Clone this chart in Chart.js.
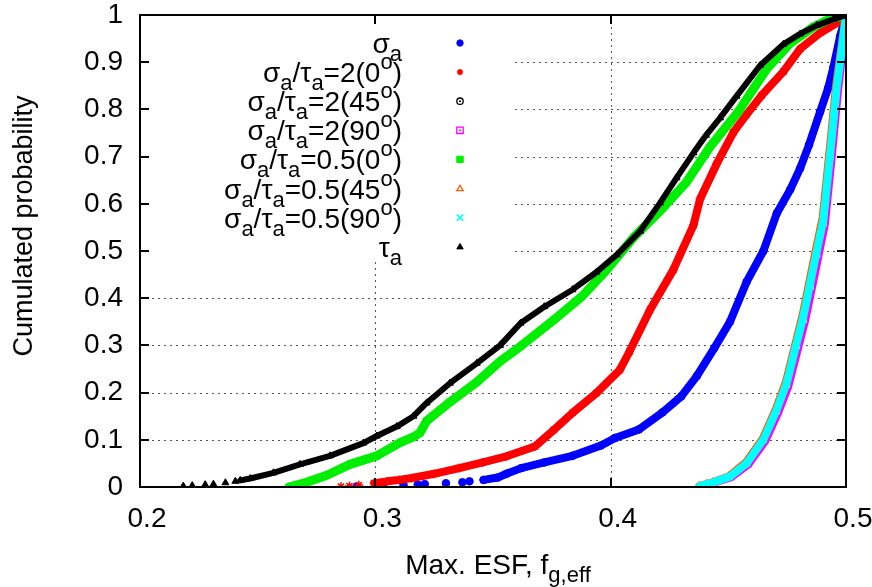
<!DOCTYPE html>
<html>
<head>
<meta charset="utf-8">
<script src="https://cdn.jsdelivr.net/npm/chart.js@4/dist/chart.umd.min.js"></script>
<style>
html,body{margin:0;padding:0;background:#ffffff;}
#wrap{width:872px;height:587px;position:relative;}
</style>
</head>
<body>
<div id="wrap"><canvas id="c" width="872" height="587"></canvas></div>
<script>
// ---------- data ----------
const seriesNames = ['σa', 'σa/τa=2(0°)', 'σa/τa=2(45°)', 'σa/τa=2(90°)', 'σa/τa=0.5(0°)', 'σa/τa=0.5(45°)', 'σa/τa=0.5(90°)', 'τa'];
const xTickLabels = ['0.2', '0.3', '0.4', '0.5'];
const yTickLabels = ['0', '0.1', '0.2', '0.3', '0.4', '0.5', '0.6', '0.7', '0.8', '0.9', '1'];
const xAxisTitle = ['Max. ESF, f', 'g,eff'];
const yAxisTitle = 'Cumulated probability';

const sigmaA_x = [0.292, 0.301, 0.303, 0.312, 0.318, 0.321, 0.330, 0.337, 0.340, 0.346, 0.352, 0.3557, 0.362, 0.3718, 0.3838, 0.3959, 0.4019, 0.412, 0.422, 0.430, 0.4366, 0.4441, 0.4507, 0.4578, 0.4649, 0.4706, 0.4763, 0.4805, 0.4843, 0.489, 0.4924, 0.4947, 0.4975, 0.5];
const sigmaA_p = [0.001, 0.002, 0.003, 0.004, 0.005, 0.006, 0.008, 0.010, 0.012, 0.015, 0.020, 0.028, 0.040, 0.052, 0.066, 0.088, 0.104, 0.122, 0.158, 0.192, 0.235, 0.295, 0.350, 0.435, 0.500, 0.580, 0.630, 0.675, 0.725, 0.795, 0.845, 0.890, 0.955, 1.0];

const ratio2_0_x = [0.2854, 0.289, 0.293, 0.2995, 0.305, 0.310, 0.3155, 0.325, 0.3356, 0.3457, 0.3557, 0.3678, 0.3758, 0.3838, 0.3939, 0.4039, 0.408, 0.4167, 0.4266, 0.4352, 0.438, 0.4451, 0.4522, 0.4579, 0.4642, 0.4734, 0.4805, 0.489, 0.4975, 0.5];
const ratio2_0_p = [0.001, 0.002, 0.004, 0.008, 0.012, 0.015, 0.019, 0.028, 0.040, 0.052, 0.065, 0.086, 0.121, 0.157, 0.199, 0.248, 0.287, 0.375, 0.460, 0.555, 0.610, 0.685, 0.752, 0.790, 0.830, 0.880, 0.928, 0.962, 0.987, 1.0];

const ratio2_45_x = [0.4384, 0.4413, 0.444, 0.451, 0.4582, 0.4653, 0.4709, 0.4752, 0.4794, 0.4823, 0.4852, 0.488, 0.4907, 0.4936, 0.4963, 0.499, 0.5];
const ratio2_45_p = [0.002, 0.006, 0.010, 0.022, 0.050, 0.099, 0.161, 0.218, 0.301, 0.358, 0.428, 0.496, 0.562, 0.703, 0.845, 0.952, 1.0];

const ratio2_90_x = [0.4387, 0.4417, 0.4443, 0.4513, 0.4585, 0.4656, 0.4712, 0.4755, 0.4797, 0.4826, 0.4855, 0.4883, 0.491, 0.4939, 0.4966, 0.4992, 0.5];
const ratio2_90_p = [0.002, 0.006, 0.010, 0.021, 0.048, 0.097, 0.158, 0.214, 0.296, 0.352, 0.422, 0.490, 0.556, 0.698, 0.840, 0.950, 1.0];

const ratio05_0_x = [0.2633, 0.2708, 0.2794, 0.2892, 0.3006, 0.3105, 0.3162, 0.319, 0.3218, 0.3317, 0.3431, 0.353, 0.3617, 0.3758, 0.3879, 0.3983, 0.4096, 0.422, 0.4321, 0.4421, 0.4542, 0.4662, 0.4763, 0.4863, 0.4933, 0.5];
const ratio05_0_p = [0.0, 0.010, 0.025, 0.048, 0.066, 0.094, 0.106, 0.115, 0.140, 0.180, 0.222, 0.266, 0.298, 0.354, 0.404, 0.460, 0.528, 0.590, 0.645, 0.720, 0.795, 0.885, 0.940, 0.975, 0.992, 1.0];

const ratio05_45_x = [0.4377, 0.4408, 0.4434, 0.4504, 0.4575, 0.4646, 0.4702, 0.4745, 0.4787, 0.4816, 0.4845, 0.4873, 0.4901, 0.493, 0.4958, 0.4987, 0.5];
const ratio05_45_p = [0.002, 0.006, 0.010, 0.023, 0.052, 0.102, 0.165, 0.223, 0.307, 0.365, 0.436, 0.505, 0.571, 0.711, 0.851, 0.956, 1.0];

const ratio05_90_x = [0.438, 0.441, 0.4437, 0.4507, 0.4578, 0.4649, 0.4705, 0.4748, 0.479, 0.4819, 0.4848, 0.4876, 0.4904, 0.4933, 0.4961, 0.4989, 0.5];
const ratio05_90_p = [0.002, 0.006, 0.010, 0.022, 0.050, 0.100, 0.163, 0.220, 0.304, 0.361, 0.432, 0.500, 0.566, 0.707, 0.848, 0.954, 1.0];

const tauA_x = [0.2184, 0.2222, 0.2277, 0.2312, 0.2363, 0.2405, 0.2426, 0.2468, 0.2567, 0.268, 0.2807, 0.2949, 0.3006, 0.3091, 0.3162, 0.3218, 0.3317, 0.3431, 0.353, 0.3617, 0.3718, 0.3838, 0.3939, 0.4026, 0.4125, 0.421, 0.428, 0.4352, 0.4405, 0.4465, 0.4535, 0.4635, 0.4734, 0.4805, 0.4876, 0.4947, 0.5];
const tauA_p = [0.002, 0.003, 0.005, 0.006, 0.009, 0.012, 0.014, 0.018, 0.030, 0.048, 0.066, 0.093, 0.108, 0.128, 0.150, 0.178, 0.220, 0.262, 0.300, 0.347, 0.382, 0.418, 0.455, 0.492, 0.542, 0.602, 0.655, 0.708, 0.745, 0.782, 0.828, 0.893, 0.938, 0.960, 0.978, 0.991, 1.0];

// rich-text pieces of the legend labels ('' = normal, 'sub', 'sup')
const legendRich = [
  [['σ',''],['a','sub']],
  [['σ',''],['a','sub'],['/τ',''],['a','sub'],['=2(0',''],['o','sup'],[')','']],
  [['σ',''],['a','sub'],['/τ',''],['a','sub'],['=2(45',''],['o','sup'],[')','']],
  [['σ',''],['a','sub'],['/τ',''],['a','sub'],['=2(90',''],['o','sup'],[')','']],
  [['σ',''],['a','sub'],['/τ',''],['a','sub'],['=0.5(0',''],['o','sup'],[')','']],
  [['σ',''],['a','sub'],['/τ',''],['a','sub'],['=0.5(45',''],['o','sup'],[')','']],
  [['σ',''],['a','sub'],['/τ',''],['a','sub'],['=0.5(90',''],['o','sup'],[')','']],
  [['τ',''],['a','sub']]
];

// ---------- styling ----------
const FONT = '"Liberation Sans", Arial, Helvetica, sans-serif';
const pts = (xs, ps) => xs.map((v, i) => ({ x: v, y: ps[i] }));

const styles = [
  { color: '#0000ff', point: 'circle',   fill: '#0000ff', r: 3.8, bw: 1,   lw: 8, tail: 0.018 },
  { color: '#ff0000', point: 'star',     fill: '#ff0000', r: 4.4, bw: 1.5, lw: 8, tail: 0.012 },
  { color: '#000000', point: 'circle',   fill: '#ffffff', r: 3.5, bw: 1.3, lw: 7, tail: 0 , dot: true},
  { color: '#ff00ff', point: 'rect',     fill: '#ffffff', r: 3.5, bw: 1.3, lw: 8, tail: 0 , dot: true},
  { color: '#00ee00', point: 'rect',     fill: '#00ee00', r: 4.2, bw: 1,   lw: 9, tail: 0 },
  { color: '#ff5a00', point: 'triangle', fill: '#ffffff', r: 4.0, bw: 1.3, lw: 8, tail: 0 },
  { color: '#00ffff', point: 'crossRot', fill: '#00ffff', r: 4.0, bw: 1.5, lw: 8, tail: 0 },
  { color: '#000000', point: 'triangle', fill: '#000000', r: 4.0, bw: 1,   lw: 6, tail: 0.016 }
];

const seriesData = [
  pts(sigmaA_x, sigmaA_p),
  pts(ratio2_0_x, ratio2_0_p),
  pts(ratio2_45_x, ratio2_45_p),
  pts(ratio2_90_x, ratio2_90_p),
  pts(ratio05_0_x, ratio05_0_p),
  pts(ratio05_45_x, ratio05_45_p),
  pts(ratio05_90_x, ratio05_90_p),
  pts(tauA_x, tauA_p)
];

const datasets = seriesData.map((d, i) => {
  const s = styles[i];
  return {
    label: seriesNames[i],
    data: d,
    order: -i,
    showLine: true,
    tension: 0,
    borderColor: s.color,
    borderWidth: s.lw,
    borderCapStyle: 'round',
    borderJoinStyle: 'round',
    pointStyle: s.point,
    pointRadius: s.r,
    pointHoverRadius: s.r,
    pointBackgroundColor: s.fill,
    pointBorderColor: s.color,
    pointBorderWidth: s.bw,
    segment: {
      borderColor: c => (s.tail > 0 && c.p0.parsed.y < s.tail && c.p1.parsed.y < s.tail) ? 'rgba(0,0,0,0)' : undefined
    }
  };
});

// legend box region (where grid is not drawn)
const legendBox = { left: 151, right: 515, top: 26, bottom: 262 };
const legendTextRight = 402;
const legendMarkerX = 460;
const legendRowY0 = 43;
const legendRowStep = 29.1;

function drawRich(ctx, parts, xAnchor, baseline, align, big, small) {
  const f = k => (k === 'sub' || k === 'sup') ? small + 'px ' + FONT : big + 'px ' + FONT;
  let w = 0;
  parts.forEach(p => { ctx.font = f(p[1]); w += ctx.measureText(p[0]).width; });
  let x = align === 'right' ? xAnchor - w : (align === 'center' ? xAnchor - w / 2 : xAnchor);
  ctx.textAlign = 'left';
  ctx.textBaseline = 'alphabetic';
  parts.forEach(p => {
    ctx.font = f(p[1]);
    const dy = p[1] === 'sub' ? 8 : (p[1] === 'sup' ? -13 : 0);
    ctx.fillText(p[0], x, baseline + dy);
    x += ctx.measureText(p[0]).width;
  });
}
function drawMarker(ctx, s, x, y, r) {
  ctx.save();
  ctx.fillStyle = s.fill;
  ctx.strokeStyle = s.color;
  ctx.lineWidth = s.bw;
  ctx.beginPath();
  if (s.point === 'circle') {
    ctx.arc(x, y, r, 0, Math.PI * 2);
    ctx.fill(); ctx.stroke();
  } else if (s.point === 'rect') {
    ctx.rect(x - r, y - r, 2 * r, 2 * r);
    ctx.fill(); ctx.stroke();
  } else if (s.point === 'triangle') {
    const h = r * 1.7;
    ctx.moveTo(x, y - h * 0.6);
    ctx.lineTo(x + r, y + h * 0.4);
    ctx.lineTo(x - r, y + h * 0.4);
    ctx.closePath();
    ctx.fill(); ctx.stroke();
  } else if (s.point === 'star') {
    for (let k = 0; k < 4; k++) {
      const a = k * Math.PI / 4;
      ctx.moveTo(x - r * Math.cos(a), y - r * Math.sin(a));
      ctx.lineTo(x + r * Math.cos(a), y + r * Math.sin(a));
    }
    ctx.stroke();
  } else if (s.point === 'crossRot') {
    ctx.moveTo(x - r, y - r); ctx.lineTo(x + r, y + r);
    ctx.moveTo(x + r, y - r); ctx.lineTo(x - r, y + r);
    ctx.stroke();
  }
  if (s.dot) {
    ctx.beginPath();
    ctx.fillStyle = s.color;
    ctx.arc(x, y, 1, 0, Math.PI * 2);
    ctx.fill();
  }
  ctx.restore();
}

const gridPlugin = {
  id: 'gnuGrid',
  beforeDatasetsDraw(chart) {
    const { ctx, chartArea: a, scales: { x, y } } = chart;
    ctx.save();
    ctx.strokeStyle = '#555555';
    ctx.lineWidth = 1;
    ctx.setLineDash([2, 4]);
    for (let i = 1; i < yTickLabels.length - 1; i++) {
      const py = Math.round(y.getPixelForValue(parseFloat(yTickLabels[i]))) + 0.5;
      const x0 = (py >= legendBox.top && py <= legendBox.bottom) ? legendBox.right : a.left;
      ctx.beginPath(); ctx.moveTo(x0, py); ctx.lineTo(a.right, py); ctx.stroke();
    }
    for (let i = 1; i < xTickLabels.length - 1; i++) {
      const px = Math.round(x.getPixelForValue(parseFloat(xTickLabels[i]))) + 0.5;
      ctx.beginPath();
      if (px >= legendBox.left && px <= legendBox.right) {
        ctx.moveTo(px, a.top); ctx.lineTo(px, legendBox.top);
        ctx.moveTo(px, legendBox.bottom); ctx.lineTo(px, a.bottom);
      } else {
        ctx.moveTo(px, a.top); ctx.lineTo(px, a.bottom);
      }
      ctx.stroke();
    }
    ctx.restore();
  },
  afterDraw(chart) {
    const { ctx, chartArea: a, scales: { x, y } } = chart;
    ctx.save();
    // frame
    ctx.strokeStyle = '#000000';
    ctx.lineWidth = 2;
    ctx.setLineDash([]);
    ctx.strokeRect(a.left, a.top, a.right - a.left, a.bottom - a.top);
    // inward tick marks
    const tl = 9;
    ctx.beginPath();
    yTickLabels.forEach(l => {
      const py = Math.round(y.getPixelForValue(parseFloat(l)));
      ctx.moveTo(a.left, py); ctx.lineTo(a.left + tl, py);
      ctx.moveTo(a.right, py); ctx.lineTo(a.right - tl, py);
    });
    xTickLabels.forEach(l => {
      const px = Math.round(x.getPixelForValue(parseFloat(l)));
      ctx.moveTo(px, a.bottom); ctx.lineTo(px, a.bottom - tl);
      ctx.moveTo(px, a.top); ctx.lineTo(px, a.top + tl);
    });
    ctx.stroke();

    // legend
    legendRich.forEach((parts, i) => {
      const ry = legendRowY0 + i * legendRowStep;
      ctx.fillStyle = '#000000';
      drawRich(ctx, parts, legendTextRight, ry + 10, 'right', 28, 22);
      drawMarker(ctx, styles[i], legendMarkerX, ry, 3.2);
    });

    // axis titles
    ctx.fillStyle = '#000000';
    drawRich(ctx, [[xAxisTitle[0], ''], [xAxisTitle[1], 'sub']], 498, 574, 'center', 28, 22);
    ctx.save();
    ctx.translate(23, 226);
    ctx.rotate(-Math.PI / 2);
    ctx.font = '27px ' + FONT;
    ctx.textAlign = 'center';
    ctx.textBaseline = 'alphabetic';
    ctx.fillText(yAxisTitle, 0, 9);
    ctx.restore();
    ctx.restore();
  }
};

new Chart(document.getElementById('c'), {
  type: 'scatter',
  data: { datasets },
  options: {
    responsive: false,
    animation: false,
    devicePixelRatio: 1,
    events: [],
    layout: { padding: { top: 15, right: 26, bottom: 0, left: 0 } },
    plugins: { legend: { display: false }, tooltip: { enabled: false }, title: { display: false } },
    scales: {
      x: {
        type: 'linear',
        min: 0.2, max: 0.5,
        grid: { display: false },
        border: { display: false },
        afterBuildTicks: s => { s.ticks = xTickLabels.map(l => ({ value: parseFloat(l) })); },
        afterFit: s => { s.height = 100; s.paddingLeft = 0; s.paddingRight = 0; s.paddingTop = 0; s.paddingBottom = 0; },
        ticks: {
          autoSkip: false,
          maxRotation: 0,
          padding: 10,
          labelOffset: 7,
          color: '#000000',
          font: { family: FONT, size: 28, lineHeight: 1 },
          callback: (v, i) => xTickLabels[i]
        }
      },
      y: {
        type: 'linear',
        min: 0, max: 1,
        grid: { display: false },
        border: { display: false },
        afterBuildTicks: s => { s.ticks = yTickLabels.map(l => ({ value: parseFloat(l) })); },
        afterFit: s => { s.width = 140; s.paddingLeft = 0; s.paddingRight = 0; s.paddingTop = 0; s.paddingBottom = 0; },
        ticks: {
          autoSkip: false,
          padding: 9,
          color: '#000000',
          font: { family: FONT, size: 28, lineHeight: 1 },
          callback: (v, i) => yTickLabels[i]
        }
      }
    }
  },
  plugins: [gridPlugin]
});
</script>
</body>
</html>
